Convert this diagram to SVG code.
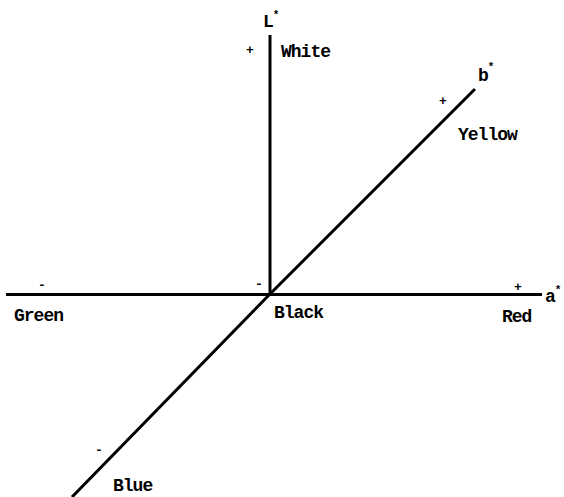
<svg xmlns="http://www.w3.org/2000/svg" width="564" height="497" viewBox="0 0 564 497">
<style>
.ax{stroke:#000;stroke-width:3;fill:none;stroke-linecap:butt}
text{font-family:"Liberation Mono","DejaVu Sans Mono",monospace;font-size:18px;letter-spacing:-1px;font-weight:bold;fill:#000}
.sg{font-size:13px;letter-spacing:0}
.sup{font-size:11px;letter-spacing:0}
</style>
<rect width="564" height="497" fill="#fff"/>
<g id="connectors">
<line class="ax" x1="270" y1="35" x2="270" y2="294"/>
<line class="ax" x1="6" y1="294.5" x2="542" y2="294.5"/>
<polyline class="ax" points="475,89 270,294 72,497"/>
</g>
<g id="L-axis">
<text x="263" y="27">L<tspan class="sup" dy="-9">*</tspan></text>
<text class="sg" x="246" y="54">+</text>
<text x="281" y="57">White</text>
</g>
<g id="b-axis">
<text x="478" y="81">b<tspan class="sup" dy="-11">*</tspan></text>
<text class="sg" x="439" y="105">+</text>
<text x="458" y="140">Yellow</text>
<text class="sg" x="95" y="454">-</text>
<text x="113" y="491">Blue</text>
</g>
<g id="a-axis">
<text x="545" y="302">a<tspan class="sup" dy="-9">*</tspan></text>
<text class="sg" x="514" y="291">+</text>
<text x="502" y="322">Red</text>
<text class="sg" x="38" y="289">-</text>
<text x="14" y="321">Green</text>
</g>
<g id="origin">
<text class="sg" x="255" y="288">-</text>
<text x="274" y="318">Black</text>
</g>
</svg>
